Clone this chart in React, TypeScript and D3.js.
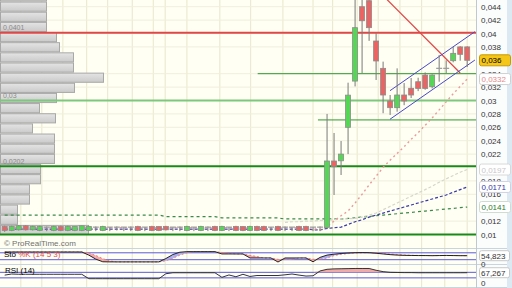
import React from "react";
import * as d3 from "d3";

const W = 512;
const H = 288;

// ---------- price candles (index 0..66) ----------
const opens = [
  0.0112, 0.0106, 0.0107, 0.0113, 0.0107, 0.0106, 0.0111, 0.0106, 0.0112, 0.0106,
  0.0106, 0.0106, 0.0106, 0.0111, 0.0106, 0.0111, 0.0111, 0.0111, 0.0111, 0.0112,
  0.0111, 0.0112, 0.0112, 0.0112, 0.0111, 0.0111, 0.0106, 0.0111, 0.0106, 0.0111,
  0.0112, 0.0106, 0.0111, 0.0112, 0.0112, 0.0106, 0.0112, 0.0112, 0.0111, 0.0112,
  0.0111, 0.0111, 0.0112, 0.0112, 0.0111, 0.0111,
  0.01107, 0.02097, 0.021, 0.026, 0.0329, 0.044, 0.0449, 0.03888, 0.0348, 0.02993,
  0.02893, 0.03082, 0.03182, 0.0328, 0.0338, 0.03206, 0.0348, 0.0348, 0.03594, 0.038, 0.038,
];
const closes = [
  0.0106, 0.0112, 0.0113, 0.0107, 0.0112, 0.0112, 0.0111, 0.0112, 0.0106, 0.0112,
  0.0112, 0.0113, 0.0112, 0.0111, 0.0112, 0.0111, 0.0111, 0.0111, 0.0111, 0.0106,
  0.0111, 0.0106, 0.0106, 0.0107, 0.0111, 0.0111, 0.0112, 0.0111, 0.0112, 0.0111,
  0.0106, 0.0112, 0.0111, 0.0106, 0.0106, 0.0112, 0.0106, 0.0106, 0.0111, 0.0106,
  0.0111, 0.0111, 0.0106, 0.0106, 0.0111, 0.0111,
  0.02097, 0.02012, 0.022, 0.0308, 0.04087, 0.0419, 0.04087, 0.0359, 0.03082, 0.02893,
  0.03082, 0.02993, 0.03082, 0.0318, 0.0318, 0.0338, 0.0348, 0.0348, 0.03704, 0.03689, 0.036,
];
const highs = [
  0.0113, 0.0113, 0.0114, 0.0114, 0.0113, 0.0113, 0.0112, 0.0113, 0.0113, 0.0113,
  0.0112, 0.0113, 0.0113, 0.0112, 0.0113, 0.0111, 0.0112, 0.0111, 0.0112, 0.0113,
  0.0111, 0.0113, 0.0112, 0.0113, 0.0111, 0.0112, 0.0113, 0.0111, 0.0113, 0.0112,
  0.0113, 0.0113, 0.0111, 0.0113, 0.0112, 0.0113, 0.0113, 0.0113, 0.0111, 0.0113,
  0.0112, 0.0111, 0.0113, 0.0113, 0.0111, 0.0112,
  0.028, 0.02515, 0.02395, 0.03266, 0.0465, 0.0465, 0.0465, 0.04003, 0.0358, 0.03082,
  0.0348, 0.0326, 0.03336, 0.0334, 0.0342, 0.0339, 0.0368, 0.036, 0.038, 0.0381, 0.0381,
];
const lows = [
  0.0104, 0.0105, 0.0106, 0.0106, 0.0106, 0.0105, 0.0105, 0.0105, 0.0105, 0.0105,
  0.0105, 0.0105, 0.0105, 0.0105, 0.0105, 0.0105, 0.0106, 0.0105, 0.0105, 0.0105,
  0.0105, 0.0105, 0.0105, 0.0106, 0.0105, 0.0105, 0.0105, 0.0105, 0.0105, 0.0105,
  0.0105, 0.0105, 0.0105, 0.0105, 0.0105, 0.0105, 0.0105, 0.0105, 0.0105, 0.0105,
  0.0105, 0.0105, 0.0105, 0.0105, 0.0105, 0.0105,
  0.0108, 0.0159, 0.01888, 0.022, 0.0321, 0.0341, 0.0389, 0.03306, 0.0281, 0.02784,
  0.02833, 0.0293, 0.03037, 0.0314, 0.0316, 0.0318, 0.0328, 0.0341, 0.0357, 0.03594, 0.035,
];

// ---------- moving averages ----------
const maPink = [
  0.011, 0.011, 0.011, 0.011, 0.011, 0.011, 0.011, 0.011, 0.011, 0.011,
  0.011, 0.011, 0.011, 0.011, 0.011, 0.011, 0.011, 0.011, 0.011, 0.011,
  0.011, 0.011, 0.011, 0.011, 0.011, 0.011, 0.011, 0.011, 0.011, 0.011,
  0.011, 0.011, 0.011, 0.011, 0.011, 0.011, 0.011, 0.011, 0.011, 0.011,
  0.011, 0.011, 0.011, 0.011, 0.0109, 0.0107,
  0.0112, 0.012, 0.0128, 0.0135, 0.0147, 0.016, 0.0174, 0.0187, 0.02, 0.0211,
  0.0221, 0.0231, 0.0242, 0.0252, 0.0263, 0.0274, 0.0286, 0.0298, 0.031, 0.0321, 0.0332,
];
const maGray = [
  null, null, null, null, null, null, null, null, null, null,
  null, null, null, null, null, null, null, null, null, null,
  null, null, null, null, null, null, null, null, null, null,
  null, null, null, null, null, null, null, null, null, null,
  0.0118, 0.0119, 0.0119, 0.012, 0.012, 0.0121,
  0.0121, 0.0122, 0.0123, 0.01235, 0.0124, 0.0126, 0.0129, 0.0132, 0.0137, 0.0142,
  0.0147, 0.0152, 0.0157, 0.0162, 0.0167, 0.0172, 0.0178, 0.0183, 0.0188, 0.0193, 0.0197,
];
const maBlue = [
  0.0108, 0.0108, 0.0108, 0.0108, 0.0108, 0.0108, 0.0108, 0.0108, 0.0108, 0.0108,
  0.0108, 0.0108, 0.0108, 0.0108, 0.0108, 0.0108, 0.0108, 0.0108, 0.0108, 0.0108,
  0.0108, 0.0108, 0.0108, 0.0108, 0.0108, 0.0108, 0.0108, 0.0108, 0.0108, 0.0108,
  0.0108, 0.0108, 0.0108, 0.0108, 0.0108, 0.0108, 0.0108, 0.0108, 0.0108, 0.0108,
  0.0108, 0.0108, 0.0108, 0.0108, 0.0107, 0.0107,
  0.0109, 0.011, 0.0111, 0.0115, 0.0119, 0.0122, 0.0126, 0.0129, 0.0132, 0.0135,
  0.0138, 0.0141, 0.0144, 0.0147, 0.015, 0.0153, 0.0156, 0.0159, 0.0163, 0.0167, 0.0171,
];
const maGreen = [
  0.0129, 0.0129, 0.0129, 0.0129, 0.0129, 0.0129, 0.0129, 0.0129, 0.0129, 0.0129,
  0.0129, 0.0129, 0.0129, 0.0129, 0.0129, 0.0129, 0.0129, 0.0129, 0.0129, 0.0129,
  0.0129, 0.0129, 0.0129, 0.01268, 0.01268, 0.01268, 0.01268, 0.01268, 0.01268, 0.01268,
  0.01268, 0.01247, 0.01247, 0.01247, 0.01247, 0.01247, 0.01247, 0.01247, 0.01247, 0.01247,
  0.01232, 0.01232, 0.01232, 0.01232, 0.01232, 0.01232,
  0.01232, 0.01232, 0.0123, 0.0124, 0.0125, 0.0126, 0.0127, 0.0128, 0.0129, 0.013,
  0.0131, 0.0132, 0.0133, 0.0134, 0.0135, 0.0136, 0.0137, 0.0138, 0.0139, 0.014, 0.0141,
];

// ---------- volume profile (bottom bucket upward) ----------
const vpVolumes = [88, 17, 17, 29, 29, 40, 40, 54, 54, 54, 32, 55, 39, 56, 74, 103, 73, 73, 59, 56, 46, 46, 46, 46];
const vpStart = 0.00992;
const vpStep = 0.001515;

// ---------- horizontal levels & trend lines ----------
const levelPrices = [0.0401, 0.034, 0.03, 0.0271, 0.0202, 0.01];
const levelStarts = [0, 36.1, 0, 44.7, 0, 0];
const levelLabels = ["0,0401", "", "0,03", "", "0,0202", ""];
const levelKinds = ["red", "thin", "light", "thin", "thick", "thick"];

const redTrend = [[53.0, 0.0467], [65.0, 0.0341]];
const chanUpper = [[54.98, 0.03146], [67.1, 0.04027]];
const chanLower = [[54.98, 0.0272], [67.1, 0.03604]];

// ---------- axis ----------
const priceTicks = [0.044, 0.042, 0.04, 0.038, 0.034, 0.032, 0.03, 0.028, 0.026, 0.024, 0.022, 0.018, 0.016, 0.012, 0.01];
const gridIdx = [2.3, 5.3, 8.3, 11.7, 14.7, 18.2, 21.2, 22.9, 26.0, 30.7, 35.1, 39.7, 44.0, 46.8, 50.3, 53.3, 56.4, 59.5, 62.8, 66.0];

// ---------- stochastic ----------
const stochK = [
  87, 87, 87, 87, 87, 87, 87, 87, 87, 87, 87, 87, 60, 25, 2, 1, 1, 1, 1, 1,
  1, 1, 1, 30, 65, 85, 90, 90, 90, 90, 90, 70, 70, 70, 70, 35, 35, 35, 35, 0,
  35, 35, 35, 35, 2, 40, 60, 68, 74, 78, 81, 82, 81, 76, 70, 64, 60, 58, 57, 56,
  56, 55, 56, 57, 56, 55, 54.8,
];
const stochD = [
  87, 87, 87, 87, 87, 87, 87, 87, 87, 87, 87, 87, 78, 57, 29, 9, 1, 1, 1, 1,
  1, 1, 1, 11, 32, 60, 80, 90, 90, 90, 90, 83, 77, 70, 70, 58, 47, 35, 35, 23,
  23, 23, 35, 35, 24, 26, 34, 56, 67, 73, 78, 80, 81, 80, 76, 70, 65, 61, 58, 57,
  56, 56, 56, 56, 56, 56, 55,
];
// ---------- RSI ----------
const rsi = [
  50, 58, 56, 56, 56, 56, 56, 56, 56, 56, 56, 56, 24, 24, 24, 24, 24, 24, 24, 24,
  24, 24, 24, 60, 67, 67, 67, 67, 67, 67, 67, 34, 51, 38, 56, 40, 47, 47, 47, 47,
  52, 58, 50, 43, 45, 80, 92, 95, 96, 97, 98, 98, 98, 85, 75, 70, 69, 68, 68, 67,
  67, 67, 67, 67, 67, 67, 67.267,
];

const fmt = (v: number) => String(v).replace(".", ",");

export default function App() {
  const plotRight = 476;
  const x = d3.scaleLinear().domain([0, 66]).range([4.7, 467.2]);
  const y = d3.scaleLinear().domain([0.01, 0.044]).range([234.5, 6.7]);
  const vx = d3.scaleLinear().domain([0, 103]).range([0, 103]);
  const yS = d3.scaleLinear().domain([0, 100]).range([262, 250.5]);
  const yR = d3.scaleLinear().domain([0, 100]).range([282, 268.2]);

  const font = "'Liberation Sans', Arial, sans-serif";
  const bodyW = 5;

  const maLine = (arr: (number | null)[]) =>
    d3
      .line<number | null>()
      .defined((d) => d !== null)
      .x((_, i) => x(i))
      .y((d) => y(d as number))(arr) || "";

  const seg = (pts: number[][]) => `M${x(pts[0][0])},${y(pts[0][1])}L${x(pts[1][0])},${y(pts[1][1])}`;

  const kLine = d3.line<number>().x((_, i) => x(i)).y((d) => yS(d))(stochK) || "";
  const dLine = d3.line<number>().x((_, i) => x(i)).y((d) => yS(d))(stochD) || "";
  const rsiLine = d3.line<number>().x((_, i) => x(i)).y((d) => yR(d))(rsi) || "";
  const rsiArea =
    d3
      .area<number>()
      .x((_, i) => x(i))
      .y0(yR(70))
      .y1((d) => yR(Math.max(70, d)))(rsi) || "";

  const stochFills = stochK.slice(0, -1).map((k, i) => {
    const k2 = stochK[i + 1];
    const d1 = stochD[i];
    const d2 = stochD[i + 1];
    const pts = `${x(i)},${yS(k)} ${x(i + 1)},${yS(k2)} ${x(i + 1)},${yS(d2)} ${x(i)},${yS(d1)}`;
    const diff = k + k2 - d1 - d2;
    return { pts, color: diff < 0 ? "#f3a8a8" : "#aab0ee", show: Math.abs(diff) > 0.5 };
  });

  const levelStyle: Record<string, { c: string; w: number }> = {
    red: { c: "#e04848", w: 2 },
    thin: { c: "#2c9a2c", w: 1 },
    light: { c: "#7cc87c", w: 2 },
    thick: { c: "#188a18", w: 2 },
  };

  const boxes = [
    { v: 0.036, text: "0,036", fill: "#f5c518", stroke: "#c79a00", color: "#000" },
    { v: 0.0332, text: "0,0332", fill: "#ffffff", stroke: "#d0d0d0", color: "#e58a8a" },
    { v: 0.0197, text: "0,0197", fill: "#ffffff", stroke: "#d8d8d8", color: "#c8c8c8" },
    { v: 0.0171, text: "0,0171", fill: "#ffffff", stroke: "#d0d0e0", color: "#3434a8" },
    { v: 0.0141, text: "0,0141", fill: "#ffffff", stroke: "#d0dcd0", color: "#2a7a2a" },
  ];

  return (
    <svg width={W} height={H} style={{ position: "absolute", left: 0, top: 0, background: "#fbfdfd" }} fontFamily={font}>
      <defs>
        <clipPath id="main">
          <rect x={0} y={0} width={plotRight} height={248} />
        </clipPath>
        <linearGradient id="vpg" x1="0" y1="0" x2="0" y2="1">
          <stop offset="0" stopColor="#e4e4e4" />
          <stop offset="1" stopColor="#cacaca" />
        </linearGradient>
      </defs>
      {/* panel backgrounds */}
      <rect x={0} y={0} width={plotRight} height={248} fill="#fffff3" />
      <rect x={0} y={249} width={plotRight} height={15} fill="#fffff3" />
      <rect x={0} y={265.5} width={plotRight} height={21.5} fill="#fffff3" />

      {/* grid */}
      {gridIdx.map((g, i) => (
        <line key={"g" + i} x1={x(g)} x2={x(g)} y1={0} y2={287} stroke="#e8e6cc" strokeWidth={1} />
      ))}
      {priceTicks.map((t, i) => (
        <line key={"h" + i} x1={0} x2={plotRight} y1={y(t)} y2={y(t)} stroke="#f0efdc" strokeWidth={1} />
      ))}

      <g clipPath="url(#main)">
        {/* volume profile */}
        {vpVolumes.map((v, k) => {
          const lo = vpStart + k * vpStep;
          const hi = lo + vpStep;
          return (
            <rect
              key={"vp" + k}
              x={0.5}
              y={y(hi) + 0.5}
              width={vx(v)}
              height={y(lo) - y(hi) - 1}
              fill="url(#vpg)"
              stroke="#a8a8a8"
              strokeWidth={1}
            />
          );
        })}

        {/* horizontal levels */}
        {levelPrices.map((p, i) => {
          const s = levelStyle[levelKinds[i]];
          return (
            <g key={"lv" + i}>
              <line
                x1={levelStarts[i] === 0 ? 0 : x(levelStarts[i])}
                x2={plotRight}
                y1={y(p)}
                y2={y(p)}
                stroke={s.c}
                strokeWidth={s.w}
              />
              {levelLabels[i] && (
                <text x={3} y={y(p) - 2.5} fontSize={7} fill="#8a8a8a">
                  {levelLabels[i]}
                </text>
              )}
            </g>
          );
        })}

        {/* moving averages */}
        <path d={maLine(maGreen)} fill="none" stroke="#3a8a4a" strokeWidth={1.2} strokeDasharray="3,3" />
        <path d={maLine(maGray)} fill="none" stroke="#d6d6cc" strokeWidth={1.2} strokeDasharray="3,2" />
        <path d={maLine(maBlue)} fill="none" stroke="#3838a8" strokeWidth={1.2} strokeDasharray="3,2" />
        <path d={maLine(maPink)} fill="none" stroke="#ec9a9a" strokeWidth={1.4} strokeDasharray="2,3" />

        {/* trend lines */}
        <path d={seg(redTrend)} stroke="#e24545" strokeWidth={1.2} fill="none" />
        <path d={seg(chanUpper)} stroke="#4848cc" strokeWidth={1} fill="none" />
        <path d={seg(chanLower)} stroke="#4848cc" strokeWidth={1} fill="none" />

        {/* candles */}
        {opens.map((o, i) => {
          const c = closes[i];
          const cx = x(i);
          const doji = Math.abs(c - o) < 1e-7;
          const up = c > o;
          const top = y(Math.max(o, c));
          const bot = y(Math.min(o, c));
          return (
            <g key={"c" + i}>
              <line x1={cx} x2={cx} y1={y(highs[i])} y2={y(lows[i])} stroke="#7a7a7a" strokeWidth={1} />
              {doji ? (
                <line x1={cx - bodyW / 2 - 0.5} x2={cx + bodyW / 2 + 0.5} y1={top} y2={top} stroke="#9a9a9a" strokeWidth={1.2} />
              ) : (
                <rect
                  x={cx - bodyW / 2}
                  y={top}
                  width={bodyW}
                  height={Math.max(1, bot - top)}
                  fill={up ? "#55d655" : "#ea6464"}
                  stroke="#8c8c8c"
                  strokeWidth={0.8}
                />
              )}
            </g>
          );
        })}
      </g>

      <text x={4} y={246} fontSize={8} fill="#707070">
        © ProRealTime.com
      </text>

      {/* stochastic panel */}
      <line x1={0} x2={plotRight} y1={yS(80)} y2={yS(80)} stroke="#5a5ae0" strokeWidth={1} />
      <line x1={0} x2={plotRight} y1={yS(20)} y2={yS(20)} stroke="#5a5ae0" strokeWidth={1} />
      {stochFills.map((f, i) => (f.show ? <polygon key={"sf" + i} points={f.pts} fill={f.color} /> : null))}
      <path d={dLine} fill="none" stroke="#e88080" strokeWidth={1} strokeDasharray="2,2" />
      <path d={kLine} fill="none" stroke="#222" strokeWidth={1} />
      <text x={4} y={257} fontSize={8}>
        <tspan fill="#000">Sto</tspan>
        <tspan fill="#e05050"> %K (14 5 3)</tspan>
      </text>

      {/* RSI panel */}
      <line x1={0} x2={plotRight} y1={yR(70)} y2={yR(70)} stroke="#5a5ae0" strokeWidth={1} />
      <line x1={0} x2={plotRight} y1={yR(30)} y2={yR(30)} stroke="#5a5ae0" strokeWidth={1} />
      <path d={rsiArea} fill="#f0aaaa" />
      <path d={rsiLine} fill="none" stroke="#333" strokeWidth={1} />
      <text x={5} y={273} fontSize={8} fill="#000">
        RSI (14)
      </text>

      {/* separators */}
      <line x1={0} x2={W} y1={248.5} y2={248.5} stroke="#c8d4e0" />
      <line x1={0} x2={W} y1={264.5} y2={264.5} stroke="#c8d4e0" />
      <line x1={0} x2={W} y1={287.5} y2={287.5} stroke="#c8d4e0" />
      <line x1={plotRight + 0.5} x2={plotRight + 0.5} y1={0} y2={H} stroke="#c0c8d0" />
      <rect x={507} y={0} width={5} height={H} fill="#dce9f2" />

      {/* price axis */}
      {priceTicks.map((t, i) => (
        <text key={"t" + i} x={481} y={y(t) + 3} fontSize={8} fill="#333">
          {fmt(t)}
        </text>
      ))}
      {boxes.map((b, i) => (
        <g key={"b" + i}>
          <rect x={479.5} y={y(b.v) - 5.5} width={31} height={11} rx={2} fill={b.fill} stroke={b.stroke} />
          <text x={481.5} y={y(b.v) + 3} fontSize={8} fill={b.color}>
            {b.text}
          </text>
        </g>
      ))}

      {/* sub-panel axes */}
      <rect x={479.5} y={yS(54.823) - 5} width={30} height={10} rx={2} fill="#fff" stroke="#c8c8c8" />
      <text x={481} y={yS(54.823) + 3} fontSize={8} fill="#333">
        54,823
      </text>
      <text x={481} y={yS(0) + 5} fontSize={8} fill="#333">
        0
      </text>
      <rect x={479.5} y={yR(67.267) - 5} width={30} height={10} rx={2} fill="#fff" stroke="#c8c8c8" />
      <text x={481} y={yR(67.267) + 3} fontSize={8} fill="#333">
        67,267
      </text>
      <text x={481} y={yR(0) + 4} fontSize={8} fill="#333">
        0
      </text>
    </svg>
  );
}
